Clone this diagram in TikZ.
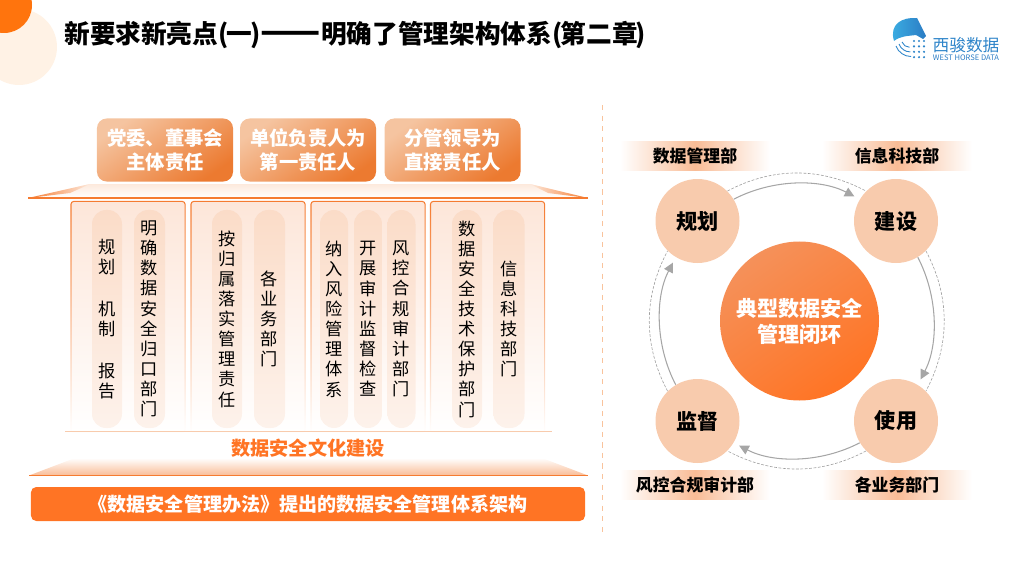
\documentclass[tikz,border=0pt]{standalone}
\usepackage{fontspec}
\setmainfont{Noto Sans CJK SC}
\usetikzlibrary{arrows.meta,fadings}
\definecolor{mainorange}{HTML}{FF7424}
\definecolor{lineorange}{HTML}{F57B30}
\definecolor{peach}{HTML}{F8CBAD}
\definecolor{boxlight}{HTML}{F5C4A0}
\definecolor{boxdark}{HTML}{EC7A30}
\definecolor{coltop}{HTML}{FDE6D9}
\definecolor{pilltop}{HTML}{FBDCC8}
\definecolor{pillend}{HTML}{FDF2EB}
\definecolor{bandmid}{HTML}{F9BC96}
\definecolor{rooftop}{HTML}{FDE9DC}
\definecolor{hublight}{HTML}{F5915A}
\definecolor{logoblue}{HTML}{2B7CC4}
\definecolor{logocyan}{HTML}{3CB0E4}
\begin{document}
\begin{tikzpicture}[x=0.2mm, y=0.2mm, >={Triangle[length=5.5pt,width=5.5pt]},
    topbox/.style={rounded corners=5.5pt, minimum width=27.2mm, minimum height=12.6mm, inner sep=0pt,
        top color=boxlight, bottom color=boxdark, shading angle=35, text=white,
        align=center, font=\fontsize{11}{13.6}\selectfont\bfseries},
    colbox/.style={draw=lineorange, fill=coltop, line width=0.6pt, rounded corners=1.5pt,
        minimum width=22.8mm, minimum height=46.2mm, path fading=south},
    pill/.style={rounded corners=8pt, minimum height=43.6mm, inner sep=0pt, top color=pilltop, bottom color=pillend,
        align=center, font=\fontsize{9.8}{11.45}\selectfont},
    bandbox/.style={minimum width=30mm, minimum height=5.8mm, inner sep=0pt, left color=white, right color=white,
        middle color=bandmid, font=\fontsize{9.6}{11}\selectfont\bfseries},
    stage/.style={circle, fill=peach, minimum size=16.8mm, inner sep=0pt, font=\fontsize{12}{14}\selectfont\bfseries},
    ringline/.style={draw=black!35, line width=0.6pt, ->, shorten >=3.4pt},
    ringdash/.style={draw=black!38, line width=0.35pt, dash pattern=on 1.6pt off 0.9pt}]
    \clip (0, 0) rectangle (1024, 576);

    % 标题
    \fill[orange!10!white] (19, 529) circle (38);
    \fill[orange!85!red!95!white] (4, 571) circle (28);
    \node[anchor=west, inner sep=0pt, font=\fontsize{14.6}{16}\selectfont\bfseries] (title) at (64, 541)
        {新要求新亮点(\kern-1pt 一\kern-1pt){\fontsize{20}{16}\selectfont ——}明确了管理架构体系(\kern-1pt 第二章\kern-1pt)};

    % 标志
    \shade[left color=logocyan, right color=logoblue] (894, 535) .. controls (889, 552) and (902, 559) .. (917, 558)
        -- (926, 540) -- (923, 537) -- (916, 541) .. controls (908, 540) and (900, 540) .. (894, 535) -- cycle;
    \begin{scope}[logoblue!80!logocyan, line width=0.5pt]
        \draw (896, 530) arc (200:270:16);
        \draw (899, 532) arc (200:270:12);
        \draw (902, 534) arc (200:270:8);
        \foreach \i in {0, 1, 2} {
            \foreach \j in {0, 1, 2, 3} {
                \fill (914 + 5*\i, 535 - 5.4*\j) circle (1.2);
            }
        }
    \end{scope}
    \node[text=logoblue!85!logocyan, font=\fontsize{9.5}{11}\selectfont] (logoname) at (966, 531) {西骏数据};
    \node[text=logoblue, font=\fontsize{4.3}{5}\selectfont] (logoeng) at (966, 518) {WEST HORSE DATA};

    % 屋顶
    \shade[top color=rooftop, bottom color=white] (28, 378) -- (90, 392) -- (530, 392) -- (588, 378) -- cycle;
    \shade[left color=lineorange, right color=rooftop] (28, 378) -- (90, 392) -- (70, 383) -- cycle;
    \shade[left color=rooftop, right color=lineorange] (588, 378) -- (530, 392) -- (548, 383) -- cycle;
    \draw[lineorange, line width=0.6pt] (28, 378) -- (588, 378);
    \node[topbox] (party) at (165, 426) {党委、董事会\\主体责任};
    \node[topbox] (leader) at (308, 426) {单位负责人为\\第一责任人};
    \node[topbox] (direct) at (452.5, 426) {分管领导为\\直接责任人};

    % 四根柱子
    \node[colbox] (colone) at (128, 259) {};
    \node[colbox] (coltwo) at (248, 259) {};
    \node[colbox] (colthree) at (368, 259) {};
    \node[colbox] (colfour) at (487.5, 259) {};

    \node[pill, minimum width=6mm] (plan) at (107, 257) {规\\划\\[2.35ex]机\\制\\[2.35ex]报\\告};
    \node[pill, minimum width=6.2mm] (dept) at (149.5, 257) {明\\确\\数\\据\\安\\全\\归\\口\\部\\门};
    \node[pill, minimum width=6mm] (duty) at (227, 257) {按\\归\\属\\落\\实\\管\\理\\责\\任};
    \node[pill, minimum width=6.2mm] (units) at (269.5, 257) {各\\业\\务\\部\\门};
    \node[pill, minimum width=5.6mm] (risk) at (334, 257) {纳\\入\\风\\险\\管\\理\\体\\系};
    \node[pill, minimum width=5.6mm] (audit) at (368, 257) {开\\展\\审\\计\\监\\督\\检\\查};
    \node[pill, minimum width=5.6mm] (comply) at (401.5, 257) {风\\控\\合\\规\\审\\计\\部\\门};
    \node[pill, minimum width=6mm] (tech) at (467, 257) {数\\据\\安\\全\\技\\术\\保\\护\\部\\门};
    \node[pill, minimum width=6.2mm] (infosci) at (509, 257) {信\\息\\科\\技\\部\\门};

    % 底部
    \draw[peach, line width=0.5pt] (65, 144.5) -- (552, 144.5);
    \node[text=mainorange, font=\fontsize{10.9}{13}\selectfont\bfseries] (culture) at (308, 128) {数据安全文化建设};
    \shade[top color=white, bottom color=bandmid] (29, 100.5) -- (75, 118) -- (542, 118) -- (588, 100.5) -- cycle;
    \draw[lineorange, line width=0.6pt] (29, 100.5) -- (588, 100.5);
    \node[fill=mainorange, rounded corners=3pt, minimum width=110.8mm, minimum height=6.8mm, inner sep=0pt,
        text=white, font=\fontsize{10.85}{13}\selectfont\bfseries] (basis) at (308, 72) {《数据安全管理办法》提出的数据安全管理体系架构};

    % 分隔线
    \draw[peach!90!orange, line width=0.5pt, dashed] (602.5, 471) -- (602.5, 43);

    % 闭环
    \node[circle, minimum size=31.8mm, inner sep=0pt, top color=hublight, bottom color=mainorange, shading angle=35,
        text=white, align=center, font=\fontsize{12}{14.7}\selectfont\bfseries] (hub) at (799.5, 255) {典型数据安全\\管理闭环};
    \node[stage] (guihua) at (697.5, 355) {规划};
    \node[stage] (jianshe) at (896, 355) {建设};
    \node[stage] (shiyong) at (896, 155) {使用};
    \node[stage] (jiandu) at (697.5, 155) {监督};

    \draw[ringline] (guihua.31) to[bend left=27.5, looseness=0.9] (jianshe.149);
    \draw[ringline] (jianshe.-59) to[bend left=27.5, looseness=0.9] (shiyong.59);
    \draw[ringline] (shiyong.-149) to[bend left=27.5, looseness=0.9] (jiandu.-31);
    \draw[ringline] (jiandu.121) to[bend left=27.5, looseness=0.9] (guihua.-121);
    \draw[ringdash] (guihua.45) to[bend left=28, looseness=0.95] (jianshe.135);
    \draw[ringdash] (jianshe.-45) to[bend left=28, looseness=0.95] (shiyong.45);
    \draw[ringdash] (shiyong.-135) to[bend left=28, looseness=0.95] (jiandu.-45);
    \draw[ringdash] (jiandu.135) to[bend left=28, looseness=0.95] (guihua.-135);

    \node[bandbox] (bandplan) at (695, 420) {数据管理部};
    \node[bandbox] (bandbuild) at (897, 420) {信息科技部};
    \node[bandbox] (bandwatch) at (695, 91) {风控合规审计部};
    \node[bandbox] (banduse) at (897, 91) {各业务部门};
\end{tikzpicture}
\end{document}
